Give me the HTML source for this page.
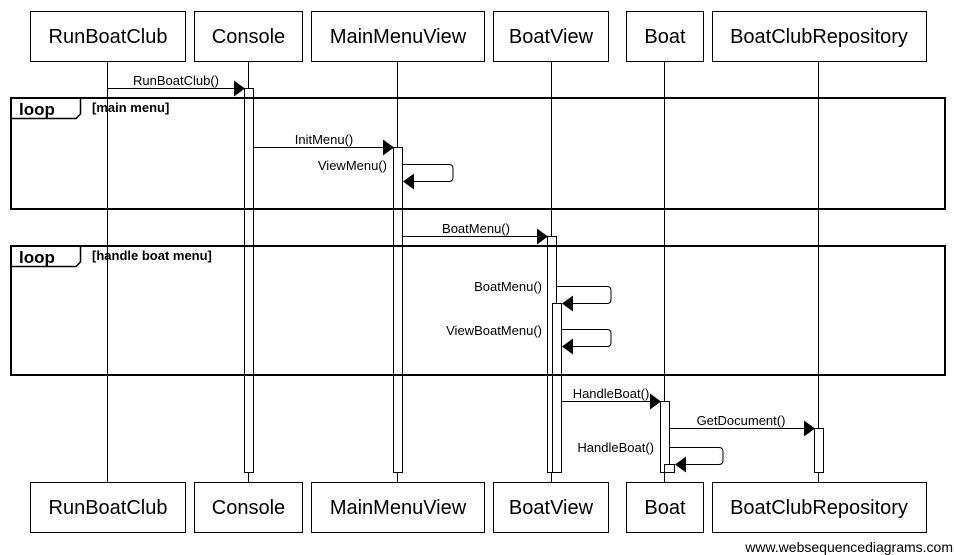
<!DOCTYPE html>
<html><head><meta charset="utf-8"><style>
html,body{margin:0;padding:0;background:#fff;}
svg{display:block;font-family:"Liberation Sans",Arial,sans-serif;}
</style></head><body>
<svg width="954" height="555" viewBox="0 0 954 555" xmlns="http://www.w3.org/2000/svg">
<g stroke="#000" stroke-width="1" fill="none">
<line x1="107.5" y1="62" x2="107.5" y2="482"/>
<line x1="248.5" y1="62" x2="248.5" y2="482"/>
<line x1="397.5" y1="62" x2="397.5" y2="482"/>
<line x1="551.5" y1="62" x2="551.5" y2="482"/>
<line x1="664.5" y1="62" x2="664.5" y2="482"/>
<line x1="818.5" y1="62" x2="818.5" y2="482"/>
</g>
<g stroke="#000" stroke-width="1" fill="#fff">
<rect x="244.5" y="88.5" width="9" height="384"/>
<rect x="393.5" y="147.5" width="9" height="325"/>
<rect x="547.5" y="236.5" width="9" height="236"/>
<rect x="552.5" y="303.5" width="9" height="169"/>
<rect x="660.5" y="401.5" width="9" height="71"/>
<rect x="664.5" y="464.5" width="10" height="8"/>
<rect x="814.5" y="428.5" width="9" height="44"/>
</g>
<g stroke="#000" fill="none">
<rect x="11" y="98" width="934" height="111" stroke-width="2"/>
<path d="M11 118.5 H76 L80.5 114 V98" stroke-width="1.5"/>
<rect x="11" y="246" width="934" height="129" stroke-width="2"/>
<path d="M11 266.5 H76 L80.5 262 V246" stroke-width="1.5"/>
</g>
<g font-weight="bold">
<text x="19" y="115" font-size="17">loop</text>
<text x="92" y="112" font-size="13">[main menu]</text>
<text x="19" y="263" font-size="17">loop</text>
<text x="92" y="260" font-size="13">[handle boat menu]</text>
</g>
<g stroke="#000" fill="none">
<line x1="107" y1="88.5" x2="235" y2="88.5"/>
<line x1="253" y1="147.5" x2="384" y2="147.5"/>
<path d="M402 164.5 H449 Q453 164.5 453 168.5 V177.5 Q453 181.5 449 181.5 H412"/>
<line x1="402" y1="236.5" x2="538" y2="236.5"/>
<path d="M556 286.5 H607 Q611 286.5 611 290.5 V299.5 Q611 303.5 607 303.5 H566"/>
<path d="M561 329.5 H607 Q611 329.5 611 333.5 V342.5 Q611 346.5 607 346.5 H571"/>
<line x1="561" y1="401.5" x2="651" y2="401.5"/>
<line x1="669" y1="428.5" x2="805" y2="428.5"/>
<path d="M669 447.5 H719 Q723 447.5 723 451.5 V460.5 Q723 464.5 719 464.5 H684"/>
</g>
<g fill="#000">
<polygon points="234,80.5 245,88.5 234,96.5"/>
<polygon points="383,139.5 394,147.5 383,155.5"/>
<polygon points="414,173.5 403,181.5 414,189.5"/>
<polygon points="537,228.5 548,236.5 537,244.5"/>
<polygon points="573,295.5 562,303.5 573,311.5"/>
<polygon points="573,338.5 562,346.5 573,354.5"/>
<polygon points="650,393.5 661,401.5 650,409.5"/>
<polygon points="804,420.5 815,428.5 804,436.5"/>
<polygon points="686,456.5 675,464.5 686,472.5"/>
</g>
<g font-size="13" fill="#000">
<text x="176" y="85" text-anchor="middle">RunBoatClub()</text>
<text x="324" y="144" text-anchor="middle">InitMenu()</text>
<text x="387" y="170" text-anchor="end">ViewMenu()</text>
<text x="476" y="233" text-anchor="middle">BoatMenu()</text>
<text x="542" y="291" text-anchor="end">BoatMenu()</text>
<text x="542" y="335" text-anchor="end">ViewBoatMenu()</text>
<text x="611" y="398" text-anchor="middle">HandleBoat()</text>
<text x="741" y="425" text-anchor="middle">GetDocument()</text>
<text x="654" y="452" text-anchor="end">HandleBoat()</text>
</g>
<g stroke="#000" fill="#fff">
<rect x="30.5" y="11.5" width="155" height="50"/>
<rect x="194.5" y="11.5" width="108" height="50"/>
<rect x="311.5" y="11.5" width="173" height="50"/>
<rect x="493.5" y="11.5" width="115" height="50"/>
<rect x="626.5" y="11.5" width="77" height="50"/>
<rect x="712.5" y="11.5" width="214" height="50"/>
<rect x="30.5" y="482.5" width="155" height="50"/>
<rect x="194.5" y="482.5" width="108" height="50"/>
<rect x="311.5" y="482.5" width="173" height="50"/>
<rect x="493.5" y="482.5" width="115" height="50"/>
<rect x="626.5" y="482.5" width="77" height="50"/>
<rect x="712.5" y="482.5" width="214" height="50"/>
</g>
<g font-size="20" fill="#000" text-anchor="middle">
<text x="108" y="43">RunBoatClub</text>
<text x="248.5" y="43">Console</text>
<text x="398" y="43">MainMenuView</text>
<text x="551" y="43">BoatView</text>
<text x="665" y="43">Boat</text>
<text x="819" y="43">BoatClubRepository</text>
<text x="108" y="514">RunBoatClub</text>
<text x="248.5" y="514">Console</text>
<text x="398" y="514">MainMenuView</text>
<text x="551" y="514">BoatView</text>
<text x="665" y="514">Boat</text>
<text x="819" y="514">BoatClubRepository</text>
</g>
<text x="953" y="552" font-size="14" text-anchor="end" fill="#000">www.websequencediagrams.com</text>
</svg>
</body></html>
